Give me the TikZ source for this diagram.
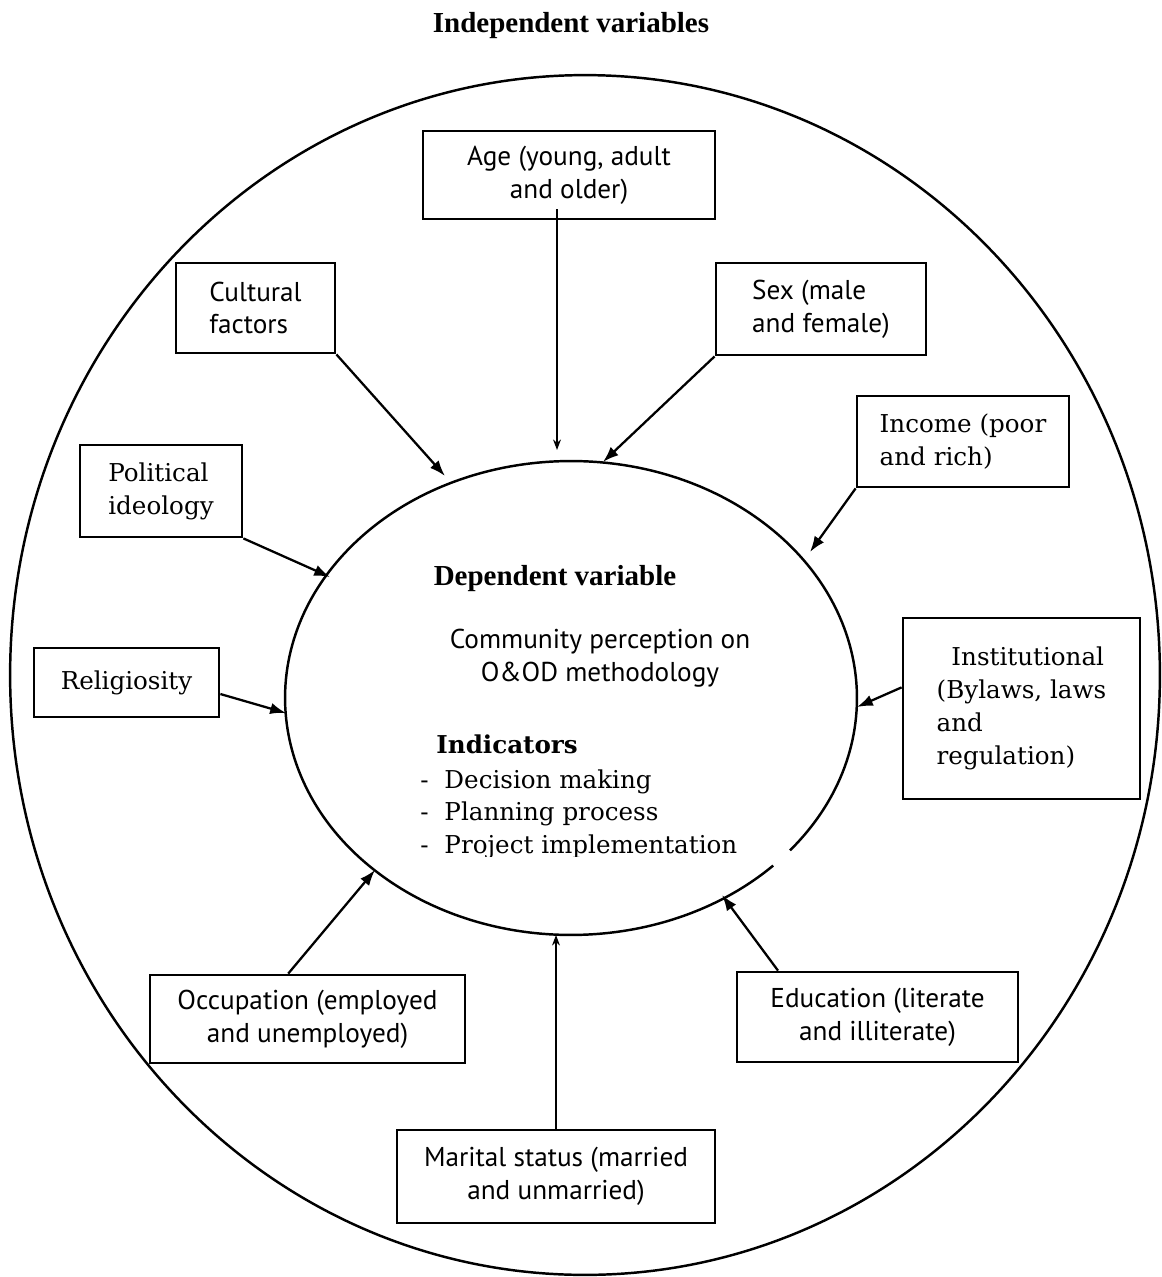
\documentclass[tikz,border=0pt]{standalone}
\usepackage{fontspec}
\setmainfont{DejaVu Serif}
\newfontfamily\varsans{PT Sans}
\newfontfamily\headserif{Liberation Serif}
\usetikzlibrary{arrows.meta,calc}

\tikzset{
  varbox/.style={draw, line width=1.6pt, inner sep=2pt},
  sansvar/.style={varbox, align=center, font=\varsans\fontsize{15.5}{18.7}\selectfont},
  serifvar/.style={varbox, align=left, font=\fontsize{14}{18.7}\selectfont},
  feeds/.style={-{Latex[length=9pt,width=6.5pt]}, line width=1.3pt},
  thinfeed/.style={-{Stealth[length=6pt,width=4.5pt]}, line width=0.7pt},
  headtxt/.style={font=\headserif\bfseries\fontsize{16.5}{20}\selectfont},
  listtxt/.style={anchor=base west, inner sep=0pt, font=\fontsize{14}{18}\selectfont},
}

\begin{document}
\begin{tikzpicture}[x=0.02cm,y=-0.02cm]
  \useasboundingbox (0,0) rectangle (1162,1277);
  \node[headtxt, anchor=base] (indep) at (571,33) {Independent variables};

  % outer circle and the dependent ellipse (small gap lower right)
  \draw[line width=1.4pt] (585,675) ellipse [x radius=11.5cm, y radius=12cm];
  \draw[line width=1.4pt] (571,698) ++(-40:5.72cm and 4.74cm)
    arc[start angle=-40, end angle=315, x radius=5.72cm, y radius=4.74cm];

  % dependent variable
  \node[headtxt, anchor=base] (deptitle) at (555,585) {Dependent variable};
  \node[font=\varsans\fontsize{15.5}{18.7}\selectfont, align=center] (percep) at (600,658)
    {Community perception on\\O\&OD methodology};
  \node[listtxt, font=\bfseries\fontsize{14}{18}\selectfont] (indic) at (436,753) {Indicators};
  \foreach \txt/\yy/\nm in {Decision making/788/decis, Planning process/820/plan}
    \node[listtxt] (\nm) at (420,\yy) {-\hspace{9pt}\txt};
  \begin{scope}
    \clip (400,825) rectangle (800,856);
    \node[listtxt] (proj) at (420,853) {-\hspace{9pt}Project implementation};
  \end{scope}

  % independent variables
  \node[sansvar, minimum width=5.84cm, minimum height=1.76cm] (age) at (569,175) {Age (young, adult\\and older)};
  \node[sansvar, align=left, minimum width=3.18cm, minimum height=1.8cm] (cult) at (255.5,308) {Cultural\\factors};
  \node[sansvar, align=left, minimum width=4.2cm, minimum height=1.84cm] (sex) at (821,309) {Sex (male\\and female)};
  \node[serifvar, minimum width=4.24cm, minimum height=1.82cm] (inc) at (963,441.5) {Income (poor\\and rich)};
  \node[serifvar, minimum width=3.24cm, minimum height=1.84cm] (pol) at (161,491) {Political\\ideology};
  \node[serifvar, minimum width=3.7cm, minimum height=1.38cm] (rel) at (126.5,682.5) {Religiosity};
  \node[serifvar, minimum width=4.74cm, minimum height=3.62cm] (inst) at (1021.5,708.5)
    {\hspace*{0.6em}Institutional\\(Bylaws, laws\\and\\regulation)};
  \node[sansvar, minimum width=6.3cm, minimum height=1.76cm] (occ) at (307.5,1019) {Occupation (employed\\and unemployed)};
  \node[sansvar, minimum width=5.62cm, minimum height=1.8cm] (edu) at (877.5,1017) {Education (literate\\and illiterate)};
  \node[sansvar, minimum width=6.36cm, minimum height=1.86cm] (mar) at (556,1176.5) {Marital status (married\\and unmarried)};

  % arrow ends at the ellipse
  \coordinate (tipage) at (557,450);
  \coordinate (tipcult) at (445,476);
  \coordinate (tipsex) at (603,462);
  \coordinate (tipinc) at (810,552);
  \coordinate (tippol) at (330,577);
  \coordinate (tiprel) at (286,713);
  \coordinate (tipinst) at (857,707);
  \coordinate (tipocc) at (375,870);
  \coordinate (tipedu) at (722,895);
  \coordinate (tipmar) at (556,935);

  \draw[thinfeed] ($(age.south -| tipage)+(0,-11)$) -- (tipage);
  \draw[feeds] (cult.south east) -- (tipcult);
  \draw[feeds] (sex.south west) -- (tipsex);
  \draw[feeds] (inc.south west) -- (tipinc);
  \draw[feeds] (pol.south east) -- (tippol);
  \draw[feeds] (rel.-7) -- (tiprel);
  \draw[feeds] (inst.170) -- (tipinst);
  \draw[feeds] (occ.113) -- (tipocc);
  \draw[feeds] (edu.155) -- (tipedu);
  \draw[thinfeed] (mar.north) -- (tipmar);
\end{tikzpicture}
\end{document}
